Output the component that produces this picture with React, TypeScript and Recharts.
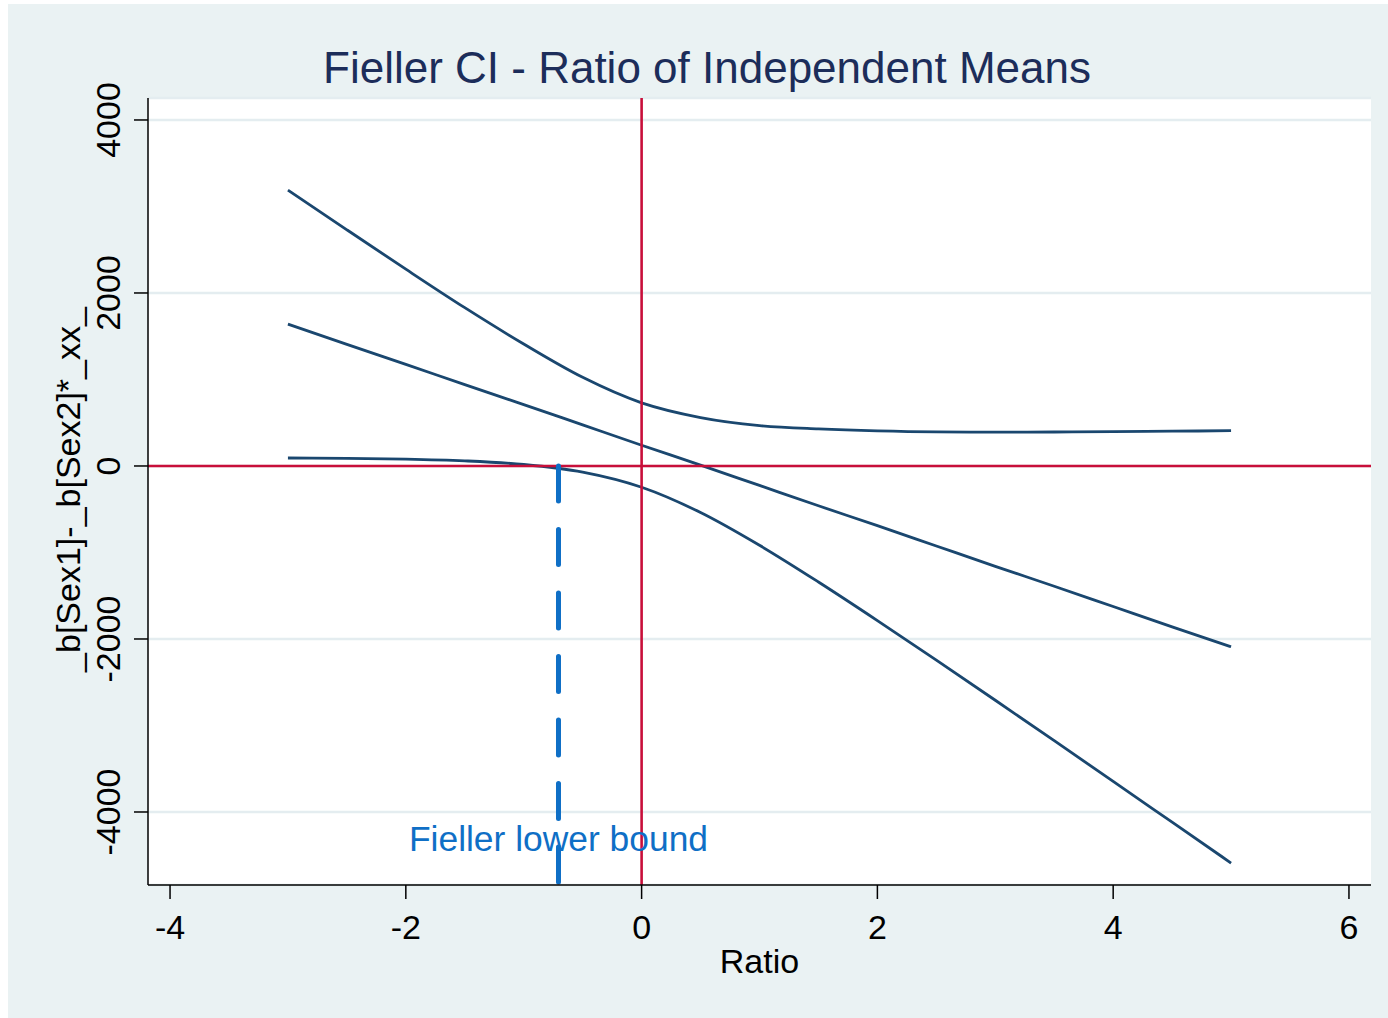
import React from 'react';
import { ComposedChart, Line, XAxis, YAxis, CartesianGrid, ReferenceLine, ReferenceDot } from 'recharts';

const ratio = [-3, -2.5, -2, -1.5, -1, -0.5, 0, 0.5, 1, 1.5, 2, 2.5, 3, 3.5, 4, 4.5, 5];
const upperCI = [3190, 2730, 2275, 1830, 1410, 1025, 730, 560, 467, 428, 405, 394, 392, 393, 397, 402, 408];
const estimate = [1640, 1405, 1175, 940, 710, 475, 240, 10, -225, -460, -690, -925, -1160, -1390, -1625, -1860, -2090];
const lowerCI = [92, 89, 80, 59, 17, -71, -246, -538, -917, -1341, -1787, -2244, -2708, -3176, -3646, -4118, -4590];

const xTicks = [-4, -2, 0, 2, 4, 6];
const yTicks = [-4000, -2000, 0, 2000, 4000];
const xDomain = [-4.187, 6.187];
const yDomain = [-4844, 4254];

const fiellerLowerBound = -0.705;
const fiellerLine = [
  { x: fiellerLowerBound, v: 0 },
  { x: fiellerLowerBound, v: -4844 },
];
const fiellerLabelY = -4300;

const data = ratio.map((x, i) => ({ x, upper: upperCI[i], mid: estimate[i], lower: lowerCI[i] }));

const FONT = '"Liberation Sans", Arial, Helvetica, sans-serif';
const NAVY = '#1A476F';
const RED = '#C80F3A';
const BLUE = '#0F6FC6';
const BG = '#EAF2F3';

const YTick = (props: any) => {
  const { x, y, payload } = props;
  return (
    <text
      x={x}
      y={y}
      transform={`rotate(-90 ${x} ${y})`}
      textAnchor="middle"
      fontSize={34}
      fill="#000"
      fontFamily={FONT}
    >
      {payload.value}
    </text>
  );
};

export default function App() {
  return (
    <div style={{ position: 'absolute', left: 8, top: 4, width: 1380, height: 1014, background: BG, fontFamily: FONT }}>
      <div
        style={{
          position: 'absolute',
          left: 9,
          top: 42,
          width: 1380,
          textAlign: 'center',
          fontSize: 44,
          lineHeight: '44px',
          color: '#1C2D5A',
          fontFamily: FONT,
          whiteSpace: 'nowrap',
        }}
      >
        Fieller CI - Ratio of Independent Means
      </div>
      <ComposedChart
        width={1380}
        height={1014}
        data={data}
        margin={{ top: 94, right: 17, bottom: 53, left: 20 }}
        style={{ position: 'absolute', left: 0, top: 0 }}
      >
        <CartesianGrid vertical={false} stroke="#E4EDF0" strokeWidth={2.5} fill="#FFFFFF" fillOpacity={1} />
        <XAxis
          type="number"
          dataKey="x"
          domain={xDomain}
          ticks={xTicks}
          allowDataOverflow
          height={80}
          tickSize={14}
          tickMargin={16}
          axisLine={{ stroke: '#000', strokeWidth: 1.5 }}
          tickLine={{ stroke: '#000', strokeWidth: 1.5 }}
          tick={{ fontSize: 34, fill: '#000', fontFamily: FONT }}
          label={{
            content: (p: any) => {
              const vb = p.viewBox || {};
              return (
                <text
                  x={vb.x + vb.width / 2}
                  y={vb.y + 88}
                  textAnchor="middle"
                  fontSize={34}
                  fill="#000"
                  fontFamily={FONT}
                >
                  Ratio
                </text>
              );
            },
          }}
        />
        <YAxis
          type="number"
          domain={yDomain}
          ticks={yTicks}
          allowDataOverflow
          width={120}
          tickSize={14}
          tickMargin={14}
          axisLine={{ stroke: '#000', strokeWidth: 1.5 }}
          tickLine={{ stroke: '#000', strokeWidth: 1.5 }}
          tick={<YTick />}
          label={{
            content: (p: any) => {
              const vb = p.viewBox || {};
              const cx = 72;
              const cy = vb.y + vb.height / 2 - 2;
              return (
                <text
                  x={cx}
                  y={cy}
                  transform={`rotate(-90 ${cx} ${cy})`}
                  textAnchor="middle"
                  fontSize={34}
                  fill="#000"
                  fontFamily={FONT}
                >
                  _b[Sex1]-_b[Sex2]*_xx_
                </text>
              );
            },
          }}
        />
        <Line type="monotone" dataKey="upper" stroke={NAVY} strokeWidth={2.8} dot={false} isAnimationActive={false} />
        <Line type="monotone" dataKey="mid" stroke={NAVY} strokeWidth={2.8} dot={false} isAnimationActive={false} />
        <Line type="monotone" dataKey="lower" stroke={NAVY} strokeWidth={2.8} dot={false} isAnimationActive={false} />
        <ReferenceLine x={0} stroke={RED} strokeWidth={2.6} />
        <ReferenceLine y={0} stroke={RED} strokeWidth={2.6} />
        <Line
          data={fiellerLine}
          type="linear"
          dataKey="v"
          stroke={BLUE}
          strokeWidth={5}
          strokeDasharray="35 28.5"
          strokeLinecap="round"
          dot={false}
          activeDot={false}
          isAnimationActive={false}
        />
        <ReferenceDot
          x={fiellerLowerBound}
          y={fiellerLabelY}
          r={0}
          fill="none"
          stroke="none"
          label={{ value: 'Fieller lower bound', position: 'center', fill: BLUE, fontSize: 35.4, fontFamily: FONT }}
        />
      </ComposedChart>
    </div>
  );
}
